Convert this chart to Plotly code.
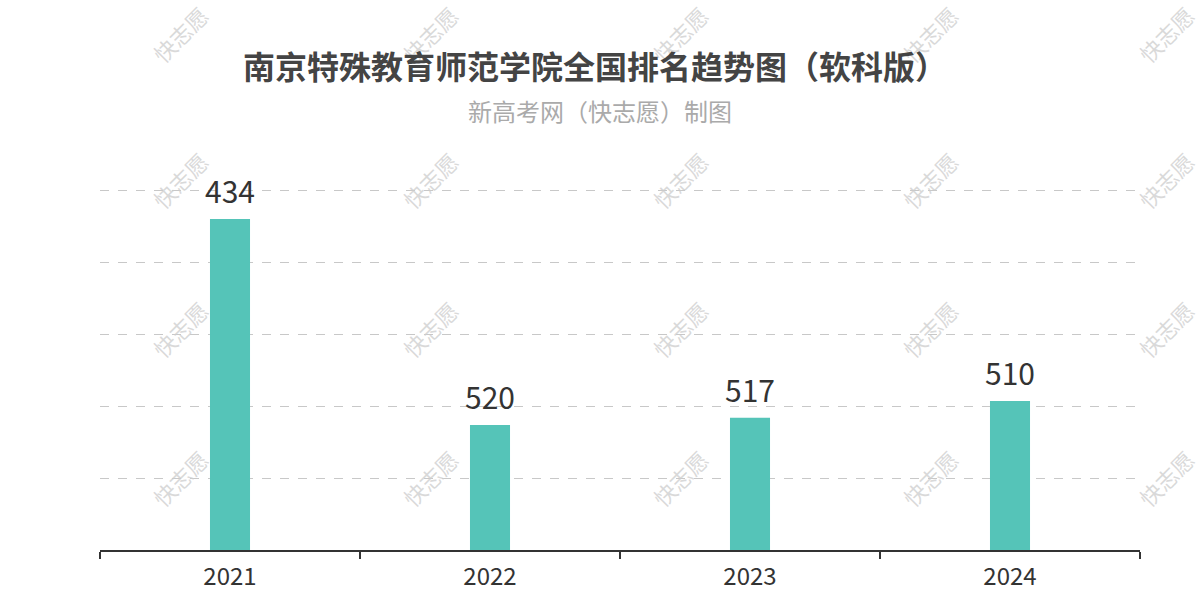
import plotly.graph_objects as go

years = ["2021", "2022", "2023", "2024"]
ranks = [434, 520, 517, 510]
axis_bottom = 572.2
axis_top = 421.1

title = "南京特殊教育师范学院全国排名趋势图（软科版）"
subtitle = "新高考网（快志愿）制图"
watermark = "快志愿"

font_family = "Noto Sans CJK SC, Noto Sans, sans-serif"

W, H = 1200, 600
L, R, T, B = 100, 60, 188, 50
pw, ph = W - L - R, H - T - B


def page_to_dom(px, py):
    return (px - L) / pw, (H - B - py) / ph


fig = go.Figure()
fig.add_trace(go.Bar(
    x=years,
    y=[r - axis_bottom for r in ranks],
    base=axis_bottom,
    marker=dict(color="#55c4b8", line=dict(width=0)),
    width=0.154,
    hoverinfo="skip",
))

ann = []
for wx in [180, 430, 680, 930, 1166]:
    for wy in [34, 180, 329, 478]:
        dx, dy = page_to_dom(wx, wy)
        ann.append(dict(
            text=watermark, x=dx, y=dy, xref="x domain", yref="y domain",
            xanchor="center", yanchor="middle",
            showarrow=False, textangle=-45,
            font=dict(size=22, color="rgba(205,205,205,0.75)", family=font_family),
        ))

for i, rk in enumerate(ranks):
    ann.append(dict(
        text=str(rk), x=i, y=rk, xref="x", yref="y",
        xanchor="center", yanchor="bottom", yshift=5,
        showarrow=False,
        font=dict(size=30, color="#333333", family=font_family),
    ))

tx, ty = page_to_dom(595, 65)
ann.append(dict(text=f"<b>{title}</b>", x=tx, y=ty, xref="x domain", yref="y domain",
                xanchor="center", yanchor="middle",
                showarrow=False, font=dict(size=32, color="#444444", family=font_family)))
sx, sy = page_to_dom(600, 111)
ann.append(dict(text=subtitle, x=sx, y=sy, xref="x domain", yref="y domain",
                xanchor="center", yanchor="middle",
                showarrow=False, font=dict(size=24, color="#aaaaaa", family=font_family)))

fig.update_layout(
    width=W, height=H,
    margin=dict(l=L, r=R, t=T, b=B, pad=0, autoexpand=False),
    paper_bgcolor="white", plot_bgcolor="white",
    showlegend=False,
    annotations=ann,
    font=dict(family=font_family),
    xaxis=dict(
        type="category",
        range=[-0.5, 3.5],
        automargin=False,
        showline=True, linecolor="#333333", linewidth=2,
        ticks="outside", tickson="boundaries", ticklen=7, tickcolor="#333333", tickwidth=2,
        ticklabelstandoff=4,
        tickfont=dict(size=24, color="#333333", family=font_family),
        showgrid=False, zeroline=False,
    ),
    yaxis=dict(
        range=[axis_bottom, axis_top],
        automargin=False,
        tickmode="linear", tick0=axis_bottom, dtick=30.05,
        showticklabels=False,
        showgrid=True, gridcolor="#c8c8c8", griddash="dash", gridwidth=1,
        zeroline=False, showline=False,
    ),
)

fig.write_html("out.html", config={"displayModeBar": False},
               post_script="document.body.style.margin='0';")
